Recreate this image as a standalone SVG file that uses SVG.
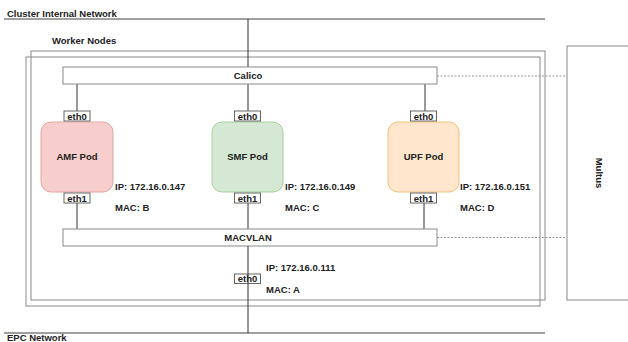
<svg xmlns="http://www.w3.org/2000/svg" width="628" height="342" viewBox="0 0 628 342">
<style>
text{font-family:"Liberation Sans",Arial,sans-serif;font-weight:bold;font-size:9.5px;fill:#222}
.c{text-anchor:middle}
.net{stroke:#808080;stroke-width:1.5;fill:none}
.box{stroke:#8a8a8a;stroke-width:1;fill:none}
.bar{stroke:#8a8a8a;stroke-width:1;fill:#fff}
.eth{stroke:#666;stroke-width:1;fill:#fff}
.ln{stroke:#333;stroke-width:1;fill:none}
.dot{stroke:#999;stroke-width:1;stroke-dasharray:2 1.5;fill:none}
</style>
<rect width="628" height="342" fill="#fff"/>
<g id="cluster-network">
<line class="net" x1="4" y1="19" x2="545" y2="19"/>
<text x="7" y="16.5">Cluster Internal Network</text>
</g>
<g id="epc-network">
<line class="net" x1="4" y1="333" x2="545" y2="333"/>
<text x="7" y="341">EPC Network</text>
</g>
<g id="worker-nodes">
<rect class="box" x="31" y="51" width="514" height="249" stroke-width="1.3"/>
<rect class="box" x="26" y="57" width="514" height="249"/>
<text x="52" y="44">Worker Nodes</text>
</g>
<g id="multus">
<rect class="box" x="567" y="46" width="70" height="254"/>
<text class="c" transform="translate(596,173) rotate(90)">Multus</text>
</g>
<g id="connectors">
<line class="ln" x1="248" y1="19" x2="248" y2="67"/>
<line class="ln" x1="77" y1="84" x2="77" y2="111"/>
<line class="ln" x1="248" y1="84" x2="248" y2="111"/>
<line class="ln" x1="425" y1="84" x2="425" y2="111"/>
<line class="ln" x1="77" y1="203" x2="77" y2="229"/>
<line class="ln" x1="248" y1="203" x2="248" y2="229"/>
<line class="ln" x1="424" y1="203" x2="424" y2="229"/>
<line class="dot" x1="437" y1="76" x2="567" y2="76"/>
<line class="dot" x1="437" y1="237.5" x2="567" y2="237.5"/>
</g>
<g id="calico">
<rect class="bar" x="63" y="67" width="374" height="17"/>
<text class="c" x="248" y="79">Calico</text>
</g>
<g id="macvlan">
<rect class="bar" x="63" y="229" width="374" height="17"/>
<text class="c" x="248" y="241">MACVLAN</text>
</g>
<g id="amf-pod">
<rect x="41" y="122" width="72" height="70" rx="10" fill="#f8cecc" stroke="#e6a5a2"/>
<text class="c" x="77" y="160">AMF Pod</text>
<rect class="eth" x="64" y="111" width="26" height="10"/>
<text class="c" x="77" y="119.5">eth0</text>
<rect class="eth" x="64" y="193" width="26" height="10"/>
<text class="c" x="77" y="201.5">eth1</text>
<text x="115" y="190">IP: 172.16.0.147</text>
<text x="115" y="211">MAC: B</text>
</g>
<g id="smf-pod">
<rect x="212" y="122" width="71" height="70" rx="10" fill="#d5e8d4" stroke="#a9d09e"/>
<text class="c" x="247.5" y="160">SMF Pod</text>
<rect class="eth" x="234.5" y="111" width="26" height="10"/>
<text class="c" x="247.5" y="119.5">eth0</text>
<rect class="eth" x="234.5" y="193" width="26" height="10"/>
<text class="c" x="247.5" y="201.5">eth1</text>
<text x="285" y="190">IP: 172.16.0.149</text>
<text x="285" y="211">MAC: C</text>
</g>
<g id="upf-pod">
<rect x="388" y="122" width="71" height="70" rx="10" fill="#ffe6cc" stroke="#f0c27a"/>
<text class="c" x="423.5" y="160">UPF Pod</text>
<rect class="eth" x="410.5" y="111" width="26" height="10"/>
<text class="c" x="423.5" y="119.5">eth0</text>
<rect class="eth" x="410.5" y="193" width="26" height="10"/>
<text class="c" x="423.5" y="201.5">eth1</text>
<text x="460" y="190">IP: 172.16.0.151</text>
<text x="460" y="211">MAC: D</text>
</g>
<g id="host-eth0">
<rect class="eth" x="234.5" y="274" width="26" height="9.5"/>
<text class="c" x="247.5" y="282">eth0</text>
<line class="ln" x1="248" y1="246" x2="248" y2="333"/>
<text x="266" y="271">IP: 172.16.0.111</text>
<text x="266" y="293">MAC: A</text>
</g>
</svg>
